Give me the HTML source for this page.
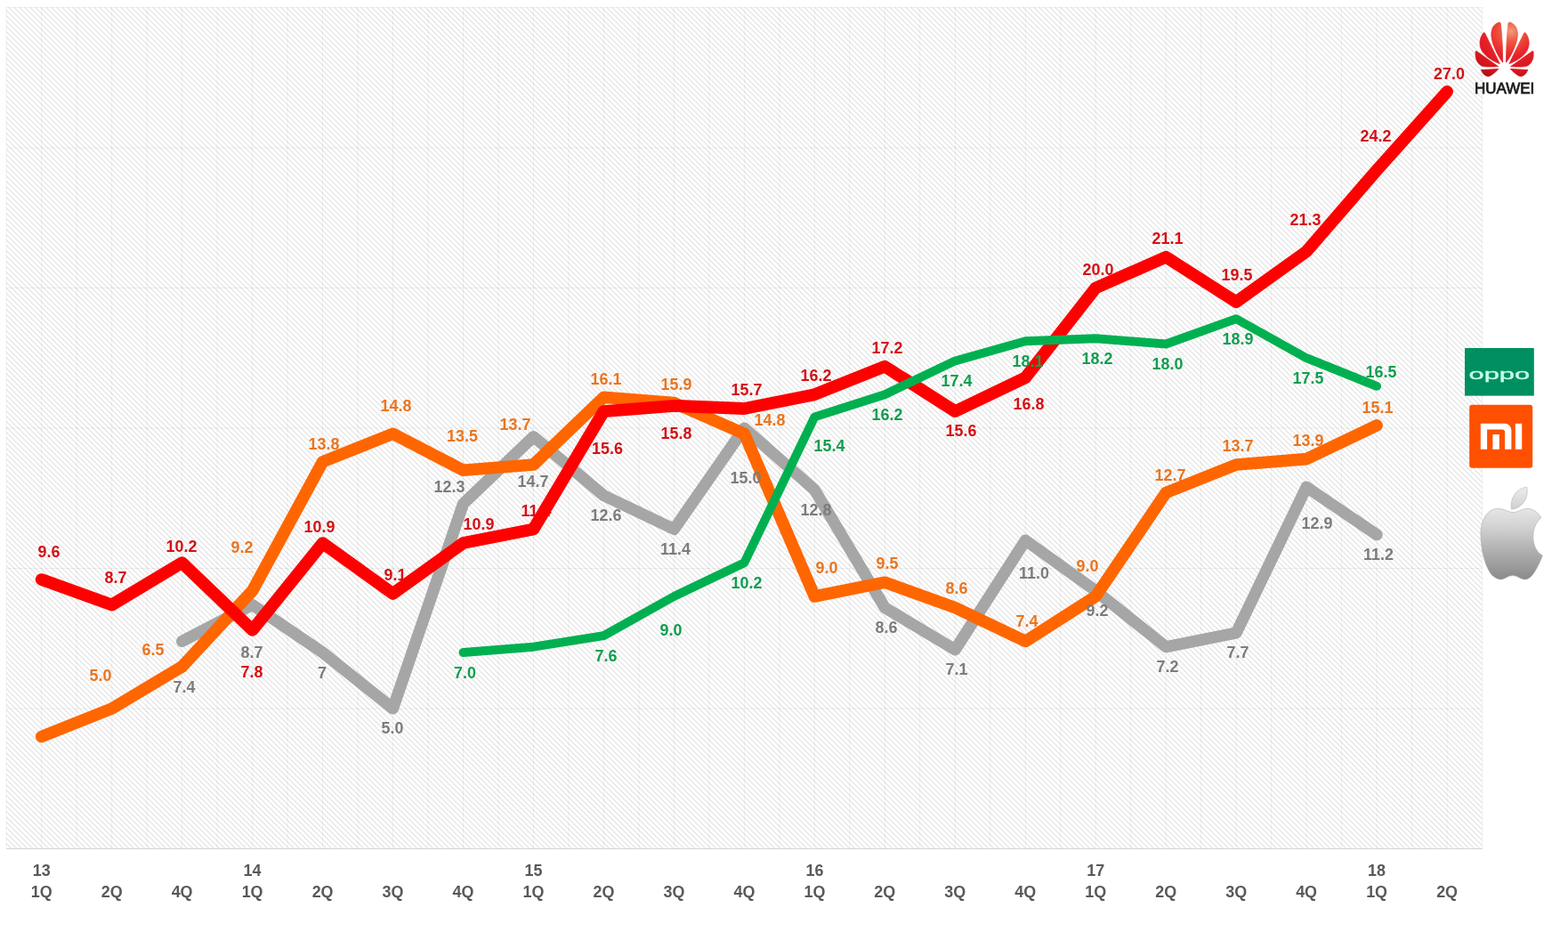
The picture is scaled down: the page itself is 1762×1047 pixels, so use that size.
<!DOCTYPE html>
<html lang="en">
<head>
<meta charset="utf-8">
<title>Smartphone market share by quarter</title>
<style>
html,body{margin:0;padding:0;background:#fff;}
body{width:1762px;height:1047px;overflow:hidden;font-family:"Liberation Sans",sans-serif;}
svg{display:block;}
text{font-family:"Liberation Sans",sans-serif;font-weight:bold;text-anchor:middle;}
.r,.o,.g,.n{font-size:18.3px;}
.r{fill:#d41015;}
.o{fill:#ea751f;}
.g{fill:#7c7c7c;}
.n{fill:#109e4f;}
.ax{font-size:18.3px;fill:#595959;}
.grid line{stroke:rgba(0,0,0,0.06);stroke-width:1;}
</style>
</head>
<body>
<svg width="1762" height="1047" viewBox="0 0 1762 1047">
<defs>
<pattern id="hatch" width="6" height="6" patternUnits="userSpaceOnUse" patternTransform="translate(1.5,0)">
<rect width="6" height="6" fill="#fff"/>
<path d="M-1,-1 L7,7 M-1,5 L1,7 M5,-1 L7,1" stroke="#d2d2d2" stroke-width="1" fill="none"/>
</pattern>
<radialGradient id="hwg" gradientUnits="userSpaceOnUse" cx="7.4" cy="-40" r="62">
<stop offset="0" stop-color="#f59a80"/>
<stop offset="0.18" stop-color="#ee5a40"/>
<stop offset="0.45" stop-color="#e8222a"/>
<stop offset="0.78" stop-color="#d3151d"/>
<stop offset="1" stop-color="#9c0a11"/>
</radialGradient>
<linearGradient id="apg" x1="0" y1="0" x2="0" y2="1">
<stop offset="0" stop-color="#e6e6e6"/>
<stop offset="0.28" stop-color="#d0d0d0"/>
<stop offset="0.55" stop-color="#b4b4b4"/>
<stop offset="1" stop-color="#8a8a8a"/>
</linearGradient>
<linearGradient id="aplg" x1="0" y1="0" x2="0" y2="1">
<stop offset="0" stop-color="#ededed"/>
<stop offset="1" stop-color="#cfcfcf"/>
</linearGradient>
<radialGradient id="hwg2" href="#hwg" cx="-7.4"/>
<g id="hwhalf">
<path d="M-1.9,-4.8 C-2,-20 -2.6,-36 -4.4,-49 Q-4.9,-50.2 -6.6,-49.8 C-14.5,-47 -16.6,-38 -13.2,-27 C-10.5,-18 -5.5,-9.5 -1.9,-4.8 Z"/>
<path d="M-5.3,-3.4 L-22,-37.8 Q-22.9,-39.2 -24,-37.6 C-28.6,-31 -28.6,-23.5 -25,-17.5 C-21,-11 -12,-5.8 -5.3,-3.4 Z"/>
<path d="M-7,-0.3 L-31.3,-17.4 Q-32.4,-18 -32.5,-16.3 C-33,-9 -30.5,-3.2 -25,-0.8 C-22,0.3 -12,0 -7,-0.3 Z"/>
<path d="M-6.7,2.4 L-26.2,3.6 C-24.4,8 -21.5,10.6 -18.3,10.8 C-14.5,10.2 -9.5,5.4 -6.7,2.4 Z"/>
</g>

</defs>
<rect x="0" y="0" width="1762" height="1047" fill="#fff"/>
<rect x="7.2" y="8.3" width="1658.3" height="945.2" fill="url(#hatch)"/>
<g class="grid">
<line x1="7.20" y1="8.3" x2="7.20" y2="953.5"/>
<line x1="46.69" y1="8.3" x2="46.69" y2="953.5"/>
<line x1="86.17" y1="8.3" x2="86.17" y2="953.5"/>
<line x1="125.66" y1="8.3" x2="125.66" y2="953.5"/>
<line x1="165.14" y1="8.3" x2="165.14" y2="953.5"/>
<line x1="204.62" y1="8.3" x2="204.62" y2="953.5"/>
<line x1="244.11" y1="8.3" x2="244.11" y2="953.5"/>
<line x1="283.59" y1="8.3" x2="283.59" y2="953.5"/>
<line x1="323.08" y1="8.3" x2="323.08" y2="953.5"/>
<line x1="362.56" y1="8.3" x2="362.56" y2="953.5"/>
<line x1="402.05" y1="8.3" x2="402.05" y2="953.5"/>
<line x1="441.53" y1="8.3" x2="441.53" y2="953.5"/>
<line x1="481.02" y1="8.3" x2="481.02" y2="953.5"/>
<line x1="520.50" y1="8.3" x2="520.50" y2="953.5"/>
<line x1="559.99" y1="8.3" x2="559.99" y2="953.5"/>
<line x1="599.48" y1="8.3" x2="599.48" y2="953.5"/>
<line x1="638.96" y1="8.3" x2="638.96" y2="953.5"/>
<line x1="678.45" y1="8.3" x2="678.45" y2="953.5"/>
<line x1="717.93" y1="8.3" x2="717.93" y2="953.5"/>
<line x1="757.42" y1="8.3" x2="757.42" y2="953.5"/>
<line x1="796.90" y1="8.3" x2="796.90" y2="953.5"/>
<line x1="836.38" y1="8.3" x2="836.38" y2="953.5"/>
<line x1="875.87" y1="8.3" x2="875.87" y2="953.5"/>
<line x1="915.36" y1="8.3" x2="915.36" y2="953.5"/>
<line x1="954.84" y1="8.3" x2="954.84" y2="953.5"/>
<line x1="994.33" y1="8.3" x2="994.33" y2="953.5"/>
<line x1="1033.81" y1="8.3" x2="1033.81" y2="953.5"/>
<line x1="1073.30" y1="8.3" x2="1073.30" y2="953.5"/>
<line x1="1112.78" y1="8.3" x2="1112.78" y2="953.5"/>
<line x1="1152.27" y1="8.3" x2="1152.27" y2="953.5"/>
<line x1="1191.75" y1="8.3" x2="1191.75" y2="953.5"/>
<line x1="1231.24" y1="8.3" x2="1231.24" y2="953.5"/>
<line x1="1270.72" y1="8.3" x2="1270.72" y2="953.5"/>
<line x1="1310.20" y1="8.3" x2="1310.20" y2="953.5"/>
<line x1="1349.69" y1="8.3" x2="1349.69" y2="953.5"/>
<line x1="1389.17" y1="8.3" x2="1389.17" y2="953.5"/>
<line x1="1428.66" y1="8.3" x2="1428.66" y2="953.5"/>
<line x1="1468.14" y1="8.3" x2="1468.14" y2="953.5"/>
<line x1="1507.63" y1="8.3" x2="1507.63" y2="953.5"/>
<line x1="1547.12" y1="8.3" x2="1547.12" y2="953.5"/>
<line x1="1586.60" y1="8.3" x2="1586.60" y2="953.5"/>
<line x1="1626.09" y1="8.3" x2="1626.09" y2="953.5"/>
<line x1="1665.57" y1="8.3" x2="1665.57" y2="953.5"/>
<line x1="7.2" y1="953.50" x2="1665.5" y2="953.50"/>
<line x1="7.2" y1="796.00" x2="1665.5" y2="796.00"/>
<line x1="7.2" y1="638.50" x2="1665.5" y2="638.50"/>
<line x1="7.2" y1="481.00" x2="1665.5" y2="481.00"/>
<line x1="7.2" y1="323.50" x2="1665.5" y2="323.50"/>
<line x1="7.2" y1="166.00" x2="1665.5" y2="166.00"/>
<line x1="7.2" y1="8.50" x2="1665.5" y2="8.50"/>
</g>
<line x1="7.2" y1="953.5" x2="1665.5" y2="953.5" stroke="#d4d4d4" stroke-width="1"/>
<g class="axis">
<text class="ax" transform="translate(46.7,1008.3) scale(0.98,1)">1Q</text>
<text class="ax" transform="translate(46.7,984.3) scale(0.98,1)">13</text>
<text class="ax" transform="translate(125.7,1008.3) scale(0.98,1)">2Q</text>
<text class="ax" transform="translate(204.6,1008.3) scale(0.98,1)">4Q</text>
<text class="ax" transform="translate(283.6,1008.3) scale(0.98,1)">1Q</text>
<text class="ax" transform="translate(283.6,984.3) scale(0.98,1)">14</text>
<text class="ax" transform="translate(362.6,1008.3) scale(0.98,1)">2Q</text>
<text class="ax" transform="translate(441.5,1008.3) scale(0.98,1)">3Q</text>
<text class="ax" transform="translate(520.5,1008.3) scale(0.98,1)">4Q</text>
<text class="ax" transform="translate(599.5,1008.3) scale(0.98,1)">1Q</text>
<text class="ax" transform="translate(599.5,984.3) scale(0.98,1)">15</text>
<text class="ax" transform="translate(678.4,1008.3) scale(0.98,1)">2Q</text>
<text class="ax" transform="translate(757.4,1008.3) scale(0.98,1)">3Q</text>
<text class="ax" transform="translate(836.4,1008.3) scale(0.98,1)">4Q</text>
<text class="ax" transform="translate(915.4,1008.3) scale(0.98,1)">1Q</text>
<text class="ax" transform="translate(915.4,984.3) scale(0.98,1)">16</text>
<text class="ax" transform="translate(994.3,1008.3) scale(0.98,1)">2Q</text>
<text class="ax" transform="translate(1073.3,1008.3) scale(0.98,1)">3Q</text>
<text class="ax" transform="translate(1152.3,1008.3) scale(0.98,1)">4Q</text>
<text class="ax" transform="translate(1231.2,1008.3) scale(0.98,1)">1Q</text>
<text class="ax" transform="translate(1231.2,984.3) scale(0.98,1)">17</text>
<text class="ax" transform="translate(1310.2,1008.3) scale(0.98,1)">2Q</text>
<text class="ax" transform="translate(1389.2,1008.3) scale(0.98,1)">3Q</text>
<text class="ax" transform="translate(1468.1,1008.3) scale(0.98,1)">4Q</text>
<text class="ax" transform="translate(1547.1,1008.3) scale(0.98,1)">1Q</text>
<text class="ax" transform="translate(1547.1,984.3) scale(0.98,1)">18</text>
<text class="ax" transform="translate(1626.1,1008.3) scale(0.98,1)">2Q</text>
</g>
<polyline points="204.6,720.4 283.6,679.5 362.6,733.0 441.5,796.0 520.5,566.0 599.5,490.5 678.4,556.6 757.4,594.4 836.4,481.0 915.4,550.3 994.3,682.6 1073.3,729.9 1152.3,607.0 1231.2,663.7 1310.2,726.7 1389.2,711.0 1468.1,547.1 1547.1,600.7" fill="none" stroke="#a6a6a6" stroke-width="13.2" stroke-linecap="round" stroke-linejoin="round"/>
<g>
<text class="o" transform="translate(113,765.2) scale(0.98,1)">5.0</text>
<text class="o" transform="translate(172,736.2) scale(0.98,1)">6.5</text>
<text class="o" transform="translate(272,621.2) scale(0.98,1)">9.2</text>
<text class="o" transform="translate(364,505.2) scale(0.98,1)">13.8</text>
<text class="o" transform="translate(445,462.2) scale(0.98,1)">14.8</text>
<text class="o" transform="translate(519.5,496.2) scale(0.98,1)">13.5</text>
<text class="o" transform="translate(579,483.2) scale(0.98,1)">13.7</text>
<text class="o" transform="translate(681,432.2) scale(0.98,1)">16.1</text>
<text class="o" transform="translate(760,438.2) scale(0.98,1)">15.9</text>
<text class="o" transform="translate(865,478.2) scale(0.98,1)">14.8</text>
<text class="o" transform="translate(929,644.2) scale(0.98,1)">9.0</text>
<text class="o" transform="translate(997,639.2) scale(0.98,1)">9.5</text>
<text class="o" transform="translate(1075,667.2) scale(0.98,1)">8.6</text>
<text class="o" transform="translate(1154,704.2) scale(0.98,1)">7.4</text>
<text class="o" transform="translate(1222,642.2) scale(0.98,1)">9.0</text>
<text class="o" transform="translate(1315,540.2) scale(0.98,1)">12.7</text>
<text class="o" transform="translate(1391,507.2) scale(0.98,1)">13.7</text>
<text class="o" transform="translate(1470,501.2) scale(0.98,1)">13.9</text>
<text class="o" transform="translate(1548,464.2) scale(0.98,1)">15.1</text>
</g>
<polyline points="46.7,827.5 125.7,796.0 204.6,748.8 283.6,663.7 362.6,518.8 441.5,487.3 520.5,528.2 599.5,522.0 678.4,446.3 757.4,452.6 836.4,487.3 915.4,670.0 994.3,654.2 1073.3,682.6 1152.3,720.4 1231.2,670.0 1310.2,553.5 1389.2,522.0 1468.1,515.6 1547.1,477.9" fill="none" stroke="#ff6600" stroke-width="13.6" stroke-linecap="round" stroke-linejoin="round"/>
<g>
<text class="g" transform="translate(207,778.2) scale(0.98,1)">7.4</text>
<text class="g" transform="translate(283,739.2) scale(0.98,1)">8.7</text>
<text class="g" transform="translate(362,762.2) scale(0.98,1)">7</text>
<text class="g" transform="translate(441,824.2) scale(0.98,1)">5.0</text>
<text class="g" transform="translate(505,553.2) scale(0.98,1)">12.3</text>
<text class="g" transform="translate(599,547.2) scale(0.98,1)">14.7</text>
<text class="g" transform="translate(681,585.2) scale(0.98,1)">12.6</text>
<text class="g" transform="translate(759,623.2) scale(0.98,1)">11.4</text>
<text class="g" transform="translate(838,543.2) scale(0.98,1)">15.0</text>
<text class="g" transform="translate(917,579.2) scale(0.98,1)">12.8</text>
<text class="g" transform="translate(996,711.2) scale(0.98,1)">8.6</text>
<text class="g" transform="translate(1075,758.2) scale(0.98,1)">7.1</text>
<text class="g" transform="translate(1162,650.2) scale(0.98,1)">11.0</text>
<text class="g" transform="translate(1233,692.2) scale(0.98,1)">9.2</text>
<text class="g" transform="translate(1312,755.2) scale(0.98,1)">7.2</text>
<text class="g" transform="translate(1391,739.2) scale(0.98,1)">7.7</text>
<text class="g" transform="translate(1480,594.2) scale(0.98,1)">12.9</text>
<text class="g" transform="translate(1549,629.2) scale(0.98,1)">11.2</text>
</g>
<g>
<text class="r" transform="translate(55,626.2) scale(0.98,1)">9.6</text>
<text class="r" transform="translate(130,655.2) scale(0.98,1)">8.7</text>
<text class="r" transform="translate(204,620.2) scale(0.98,1)">10.2</text>
<text class="r" transform="translate(283,761.2) scale(0.98,1)">7.8</text>
<text class="r" transform="translate(359,598.2) scale(0.98,1)">10.9</text>
<text class="r" transform="translate(444,652.2) scale(0.98,1)">9.1</text>
<text class="r" transform="translate(538,595.2) scale(0.98,1)">10.9</text>
<text class="r" transform="translate(602.5,579.9000000000001) scale(0.98,1)">11.4</text>
<text class="r" transform="translate(682.5,510.2) scale(0.98,1)">15.6</text>
<text class="r" transform="translate(760,493.2) scale(0.98,1)">15.8</text>
<text class="r" transform="translate(839,444.2) scale(0.98,1)">15.7</text>
<text class="r" transform="translate(917,428.2) scale(0.98,1)">16.2</text>
<text class="r" transform="translate(997,397.2) scale(0.98,1)">17.2</text>
<text class="r" transform="translate(1080,490.2) scale(0.98,1)">15.6</text>
<text class="r" transform="translate(1156,460.2) scale(0.98,1)">16.8</text>
<text class="r" transform="translate(1234,309.2) scale(0.98,1)">20.0</text>
<text class="r" transform="translate(1312,274.2) scale(0.98,1)">21.1</text>
<text class="r" transform="translate(1390,315.2) scale(0.98,1)">19.5</text>
<text class="r" transform="translate(1467,253.2) scale(0.98,1)">21.3</text>
<text class="r" transform="translate(1546,159.2) scale(0.98,1)">24.2</text>
<text class="r" transform="translate(1628.5,89.2) scale(0.98,1)">27.0</text>
</g>
<polyline points="46.7,651.1 125.7,679.5 204.6,632.2 283.6,707.8 362.6,610.1 441.5,666.9 520.5,610.1 599.5,594.4 678.4,462.1 757.4,455.8 836.4,459.0 915.4,443.2 994.3,411.7 1073.3,462.1 1152.3,424.3 1231.2,323.5 1310.2,288.8 1389.2,339.2 1468.1,282.5 1547.1,191.2 1626.1,103.0" fill="none" stroke="#ff0000" stroke-width="13.8" stroke-linecap="round" stroke-linejoin="round"/>
<polyline points="520.5,733.0 599.5,726.7 678.4,714.1 757.4,670.0 836.4,632.2 915.4,468.4 994.3,443.2 1073.3,405.4 1152.3,383.3 1231.2,380.2 1310.2,386.5 1389.2,358.2 1468.1,402.2 1547.1,433.8" fill="none" stroke="#00b050" stroke-width="9.9" stroke-linecap="round" stroke-linejoin="round"/>
<g>
<text class="n" transform="translate(522.5,761.7) scale(0.98,1)">7.0</text>
<text class="n" transform="translate(681,743.2) scale(0.98,1)">7.6</text>
<text class="n" transform="translate(754,714.2) scale(0.98,1)">9.0</text>
<text class="n" transform="translate(839,661.2) scale(0.98,1)">10.2</text>
<text class="n" transform="translate(932,507.2) scale(0.98,1)">15.4</text>
<text class="n" transform="translate(997,472.2) scale(0.98,1)">16.2</text>
<text class="n" transform="translate(1075,434.2) scale(0.98,1)">17.4</text>
<text class="n" transform="translate(1155,412.2) scale(0.98,1)">18.1</text>
<text class="n" transform="translate(1233,409.2) scale(0.98,1)">18.2</text>
<text class="n" transform="translate(1312,415.2) scale(0.98,1)">18.0</text>
<text class="n" transform="translate(1391,387.2) scale(0.98,1)">18.9</text>
<text class="n" transform="translate(1470,431.2) scale(0.98,1)">17.5</text>
<text class="n" transform="translate(1552,424.2) scale(0.98,1)">16.5</text>
</g>

<g id="logo-huawei">
<title>Huawei logo</title>
<g transform="translate(1690.6,75)">
<use href="#hwhalf" fill="url(#hwg)" stroke="url(#hwg)" stroke-width="0.8" stroke-linejoin="round"/>
<use href="#hwhalf" transform="scale(-1,1)" fill="url(#hwg2)" stroke="url(#hwg2)" stroke-width="0.8" stroke-linejoin="round"/>
</g>
<text x="1690.6" y="105.3" textLength="67.3" lengthAdjust="spacingAndGlyphs" style="font-weight:normal;font-size:17.3px;fill:#1c1c1c;stroke:#1c1c1c;stroke-width:0.8px">HUAWEI</text>
</g>
<g id="logo-oppo">
<title>OPPO logo</title>
<rect x="1646" y="391" width="77.8" height="53.6" fill="#008f60"/>
<text transform="translate(1684.8,425.6) scale(1.86,1)" style="font-weight:normal;font-size:16.6px;fill:#c4ffec;stroke:#c4ffec;stroke-width:0.3px">oppo</text>
</g>
<g id="logo-mi">
<title>Xiaomi MI logo</title>
<rect x="1651.2" y="454.8" width="71" height="71" rx="3" ry="3" fill="#ff5000"/>
<path fill="#fff" d="M1663.8,475.8 H1690.9 A7.5,7.5 0 0 1 1698.4,483.3 V504.8 H1691 V485.3 A2.8,2.8 0 0 0 1688.2,482.5 H1671.1 V504.8 H1663.8 Z"/>
<rect x="1677.4" y="488" width="7.4" height="16.8" fill="#fff"/>
<rect x="1702.8" y="475.8" width="7.4" height="29" fill="#fff"/>
</g>
<g id="logo-apple">
<title>Apple logo</title>
<path fill="url(#apg)" stroke="#a9a9a9" stroke-width="0.6" d="M1700.4,575.7 C1695,575.5 1690,571.2 1683,571.4 C1672,571.6 1664,583 1664,600 C1664,622 1671,641 1677.5,647 C1682,650.5 1685,651.3 1688,650.8 C1692,650 1695,646.6 1700,646.6 C1705,646.6 1708,650.5 1713,651 C1718,651.3 1722,647 1726,640 C1729.5,634 1732,628 1733.4,624 C1727,621 1722.5,612 1722.8,602 C1723,593 1727,585.5 1731.8,581.5 C1728,575 1722,571.3 1716,571.4 C1710,571.5 1705,575.8 1700.4,575.7 Z"/>
<path fill="url(#aplg)" stroke="#b5b5b5" stroke-width="0.6" d="M1698.3,572.2 C1696.5,560 1704,548.5 1715.7,547.2 C1718.5,559 1710,571.5 1698.3,572.2 Z"/>
</g>

</svg>
</body>
</html>
